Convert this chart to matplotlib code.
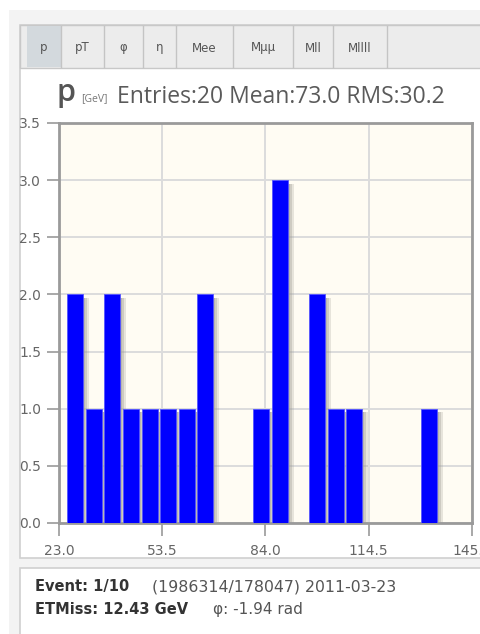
import numpy as np
import matplotlib
matplotlib.use("Agg")
from matplotlib import pyplot as plt
from matplotlib.patches import Rectangle

# histogram data (20 bins)
x_min = 25.4
bin_w = 5.5
counts = [2, 1, 2, 1, 1, 1, 1, 2, 0, 0, 1, 3, 0, 2, 1, 1, 0, 0, 0, 1]
x_ticks = [23.0, 53.5, 84.0, 114.5, 145.0]
y_ticks = [0.0, 0.5, 1.0, 1.5, 2.0, 2.5, 3.0, 3.5]
tabs = ["p", "pT", "φ", "η", "Mee", "Mμμ", "Mll", "Mllll"]
tab_edges = [27, 61, 104, 143, 176, 233, 293, 333, 387]

W, H = 481, 634
fig = plt.figure(figsize=(W / 100, H / 100), dpi=100)
fig.patch.set_facecolor("white")

# fond de l'interface, en pixels
bg = fig.add_axes([0, 0, 1, 1])
bg.set_xlim(0, W)
bg.set_ylim(H, 0)
bg.axis("off")
bg.add_patch(Rectangle((9, 10), W, H, fc="#f3f3f3", ec="none"))
bg.add_patch(Rectangle((20, 25), W, 533, fc="white", ec="#d0d0d0", lw=1.2))
bg.add_patch(Rectangle((20, 25), W, 43, fc="#ececec", ec="#c8c8c8", lw=1))
bg.add_patch(Rectangle((20, 568), W, 80, fc="white", ec="#d0d0d0", lw=1.2))
for i, t in enumerate(tabs):
    a, b = tab_edges[i], tab_edges[i + 1]
    if i == 0:
        bg.add_patch(Rectangle((a, 26), b - a, 41, fc="#d3d9dd", ec="none"))
    bg.plot([b, b], [26, 67], color="#c4c4c4", lw=1)
    bg.text((a + b) / 2, 48, t, ha="center", va="center", fontsize=8.5, color="#555555")

bg.text(57, 101, "p", fontsize=22, color="#555555", family="Open Sans", weight="semibold",
        va="baseline")
bg.text(81, 101, "[GeV]", fontsize=7.5, color="#777777", family="Open Sans", va="baseline")
bg.text(117, 103, "Entries:20 Mean:73.0 RMS:30.2", fontsize=16.5, color="#5a5a5a",
        family="Open Sans", va="baseline")

bg.text(35, 591, "Event: 1/10", fontsize=10.5, color="#333333", weight="bold",
        family="DejaVu Sans", va="baseline")
bg.text(152, 591, "(1986314/178047) 2011-03-23", fontsize=11.3, color="#555555",
        family="DejaVu Sans", va="baseline")
bg.text(35, 614, "ETMiss: 12.43 GeV", fontsize=10.5, color="#333333", weight="bold",
        family="DejaVu Sans", va="baseline")
bg.text(213, 614, "φ: -1.94 rad", fontsize=11, color="#555555",
        family="DejaVu Sans", va="baseline")

# histogramme
l, r, t, b = 59, 472, 123, 523
ax = fig.add_axes([l / W, (H - b) / H, (r - l) / W, (b - t) / H])
ax.set_facecolor("#fffcf3")
ax.set_xlim(23.0, 145.0)
ax.set_ylim(0, 3.5)

lefts = x_min + bin_w * np.arange(len(counts))
bw = 4.7
# ombre portée (3 couches)
for k, al in [(1.8, 0.25), (1.2, 0.35), (0.6, 0.45)]:
    ax.bar(lefts + k, np.array(counts) - 0.03, width=bw, align="edge",
           color="#a09d96", alpha=al, lw=0, zorder=2)
ax.bar(lefts, counts, width=bw, align="edge", color="#0000ff",
       edgecolor="#5555ff", lw=0.6, zorder=3)

ax.set_xticks(x_ticks)
ax.set_xticklabels(["%.1f" % v for v in x_ticks])
ax.set_yticks(y_ticks)
ax.set_yticklabels(["%.1f" % v for v in y_ticks])
ax.grid(True, color="#dcdcdc", lw=1.4, zorder=1)
ax.set_axisbelow(True)
for s in ax.spines.values():
    s.set_color("#9a9a9a")
    s.set_linewidth(2)
ax.tick_params(axis="both", colors="#999999", labelcolor="#666666", labelsize=10,
               length=9, width=1.2)
ax.tick_params(axis="x", pad=6)
ax.tick_params(axis="y", pad=4)
for lab in ax.get_xticklabels():
    lab.set_clip_on(False)

fig.savefig("out.png", dpi=100)
